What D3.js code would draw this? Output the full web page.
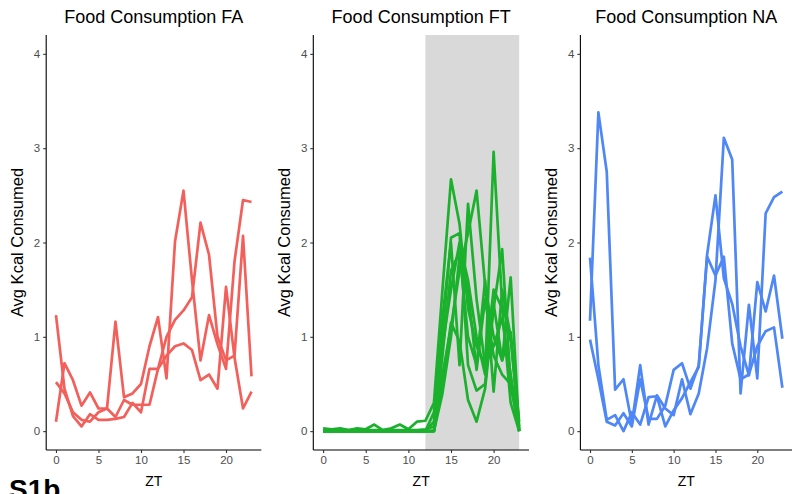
<!DOCTYPE html>
<html>
<head>
<meta charset="utf-8">
<script src="https://cdn.jsdelivr.net/npm/d3@7"></script>
<style>
  body { margin: 0; background: #fff; }
  svg { display: block; font-family: "Liberation Sans", Arial, sans-serif; }
</style>
</head>
<body>
<svg id="chart" width="792" height="494"></svg>
<script>
const zt = d3.range(0, 24);
const yTicks = [0, 1, 2, 3, 4];
const xTicks = [0, 5, 10, 15, 20];
const titles = ["Food Consumption FA", "Food Consumption FT", "Food Consumption NA"];
const colors = ["#F3605B", "#1BB12D", "#4F87F6"];
const yLabel = "Avg Kcal Consumed";
const xLabel = "ZT";
const figLabel = "S1b";
const shadeFT = [12, 23];

const faSeries = [
  [0.10, 0.72, 0.54, 0.27, 0.41, 0.24, 0.24, 1.16, 0.36, 0.40, 0.50, 0.90, 1.21, 0.56, 2.01, 2.55, 1.60, 0.75, 1.23, 0.92, 0.66, 1.80, 2.45, 2.43],
  [1.23, 0.45, 0.16, 0.05, 0.18, 0.12, 0.12, 0.13, 0.15, 0.30, 0.20, 0.66, 0.66, 1.00, 1.18, 1.28, 1.42, 2.21, 1.87, 1.00, 0.75, 0.80, 2.07, 0.58],
  [0.52, 0.40, 0.20, 0.12, 0.10, 0.20, 0.24, 0.15, 0.33, 0.28, 0.28, 0.28, 0.66, 0.80, 0.90, 0.93, 0.86, 0.54, 0.60, 0.45, 1.53, 0.78, 0.24, 0.42]
];
const ftSeries = [
  [0.03, 0.02, 0.03, 0.01, 0.03, 0.02, 0.07, 0.01, 0.03, 0.07, 0.02, 0.10, 0.11, 0.30, 1.50, 2.67, 2.20, 1.30, 0.90, 0.70, 0.90, 1.20, 0.60, 0.02],
  [0.01, 0.01, 0.01, 0.01, 0.01, 0.01, 0.01, 0.01, 0.01, 0.01, 0.01, 0.01, 0.02, 0.05, 0.90, 1.50, 2.00, 1.60, 1.00, 0.60, 2.96, 1.35, 1.00, 0.10],
  [0.00, 0.00, 0.00, 0.00, 0.00, 0.00, 0.00, 0.00, 0.00, 0.00, 0.00, 0.00, 0.00, 0.00, 0.60, 1.10, 1.70, 2.10, 2.55, 1.55, 1.00, 0.75, 1.63, 0.00],
  [0.00, 0.00, 0.00, 0.00, 0.00, 0.00, 0.00, 0.00, 0.00, 0.00, 0.00, 0.00, 0.00, 0.10, 1.20, 2.00, 0.70, 2.41, 1.40, 0.70, 1.50, 1.30, 0.30, 0.00],
  [0.00, 0.00, 0.00, 0.00, 0.00, 0.00, 0.00, 0.00, 0.00, 0.00, 0.00, 0.00, 0.00, 0.00, 0.50, 1.15, 0.95, 0.33, 0.10, 0.45, 1.30, 1.93, 0.50, 0.00],
  [0.00, 0.00, 0.00, 0.00, 0.00, 0.00, 0.00, 0.00, 0.00, 0.00, 0.00, 0.00, 0.00, 0.20, 1.00, 2.05, 2.10, 0.70, 0.43, 0.50, 1.35, 0.75, 1.05, 0.05],
  [0.00, 0.00, 0.00, 0.00, 0.00, 0.00, 0.00, 0.00, 0.00, 0.00, 0.00, 0.00, 0.00, 0.00, 0.80, 1.70, 1.90, 1.00, 0.70, 1.60, 0.42, 1.50, 1.00, 0.00],
  [0.00, 0.00, 0.00, 0.00, 0.00, 0.00, 0.00, 0.00, 0.00, 0.00, 0.00, 0.00, 0.00, 0.00, 0.40, 1.00, 1.85, 1.50, 0.65, 1.40, 0.80, 0.60, 0.50, 0.00]
];
const naSeries = [
  [1.17, 3.38, 2.75, 0.44, 0.55, 0.08, 0.70, 0.07, 0.38, 0.24, 0.17, 0.55, 0.18, 0.40, 0.88, 1.60, 3.11, 2.88, 0.40, 1.34, 0.56, 2.31, 2.48, 2.54],
  [1.84, 0.70, 0.12, 0.17, 0.00, 0.20, 0.07, 0.36, 0.37, 0.05, 0.22, 0.35, 0.52, 0.68, 1.87, 2.50, 1.62, 1.35, 0.90, 0.59, 1.58, 1.27, 1.65, 0.98],
  [0.97, 0.55, 0.10, 0.06, 0.19, 0.05, 0.55, 0.13, 0.13, 0.27, 0.65, 0.72, 0.45, 0.70, 1.85, 1.65, 1.85, 0.93, 0.55, 0.60, 0.90, 1.06, 1.10, 0.46]
];
const panelsData = [faSeries, ftSeries, naSeries];

const panelBox = [
  { x0: 46.2, x1: 261.3 },
  { x0: 313.3, x1: 529.0 },
  { x0: 580.4, x1: 792.0 }
];
const plotTop = 35, plotBottom = 450;

const svg = d3.select("#chart");
const y = d3.scaleLinear().domain([-0.2, 4.2]).range([plotBottom, plotTop]);

panelsData.forEach((series, i) => {
  const box = panelBox[i];
  const x = d3.scaleLinear().domain([-1.15, 24.15]).range([box.x0, box.x1]);
  const g = svg.append("g");

  if (i === 1) {
    g.append("rect")
      .attr("x", x(shadeFT[0])).attr("y", plotTop)
      .attr("width", x(shadeFT[1]) - x(shadeFT[0]))
      .attr("height", plotBottom - plotTop)
      .attr("fill", "#D9D9D9");
  }

  const line = d3.line().x((d, k) => x(zt[k])).y(d => y(d));
  g.selectAll("path.series").data(series).enter().append("path")
    .attr("class", "series")
    .attr("d", d => line(d))
    .attr("fill", "none")
    .attr("stroke", colors[i])
    .attr("stroke-width", 2.7)
    .attr("stroke-linejoin", "round");

  const xa = g.append("g").attr("transform", `translate(0,${plotBottom})`)
    .call(d3.axisBottom(x).tickValues(xTicks).tickFormat(d3.format("d")).tickSize(3).tickPadding(3));
  const ya = g.append("g").attr("transform", `translate(${box.x0},0)`)
    .call(d3.axisLeft(y).tickValues(yTicks).tickFormat(d3.format("d")).tickSize(3).tickPadding(3));
  xa.select(".domain").attr("d", `M${box.x0},0H${box.x1}`);
  ya.select(".domain").attr("d", `M0,${plotTop}V${plotBottom}`);
  [xa, ya].forEach(a => {
    a.select(".domain").attr("stroke", "#000").attr("stroke-width", 1.1);
    a.selectAll(".tick line").attr("stroke", "#333").attr("stroke-width", 1.1);
    a.selectAll(".tick text").attr("fill", "#4D4D4D").attr("font-size", 11.5)
      .attr("font-family", "'Liberation Sans', Arial, sans-serif");
  });

  g.append("text")
    .attr("x", (box.x0 + box.x1) / 2).attr("y", 23)
    .attr("text-anchor", "middle").attr("font-size", 18).attr("fill", "#000")
    .text(titles[i]);

  g.append("text")
    .attr("transform", `translate(${box.x0 - 23},${(plotTop + plotBottom) / 2}) rotate(-90)`)
    .attr("text-anchor", "middle").attr("font-size", 16.5).attr("fill", "#000")
    .text(yLabel);

  g.append("text")
    .attr("x", (box.x0 + box.x1) / 2).attr("y", 486)
    .attr("text-anchor", "middle").attr("font-size", 14).attr("fill", "#000")
    .text(xLabel);
});

svg.append("text")
  .attr("x", 9).attr("y", 499)
  .attr("font-size", 28).attr("font-weight", "bold").attr("fill", "#000")
  .text(figLabel);
</script>
</body>
</html>
